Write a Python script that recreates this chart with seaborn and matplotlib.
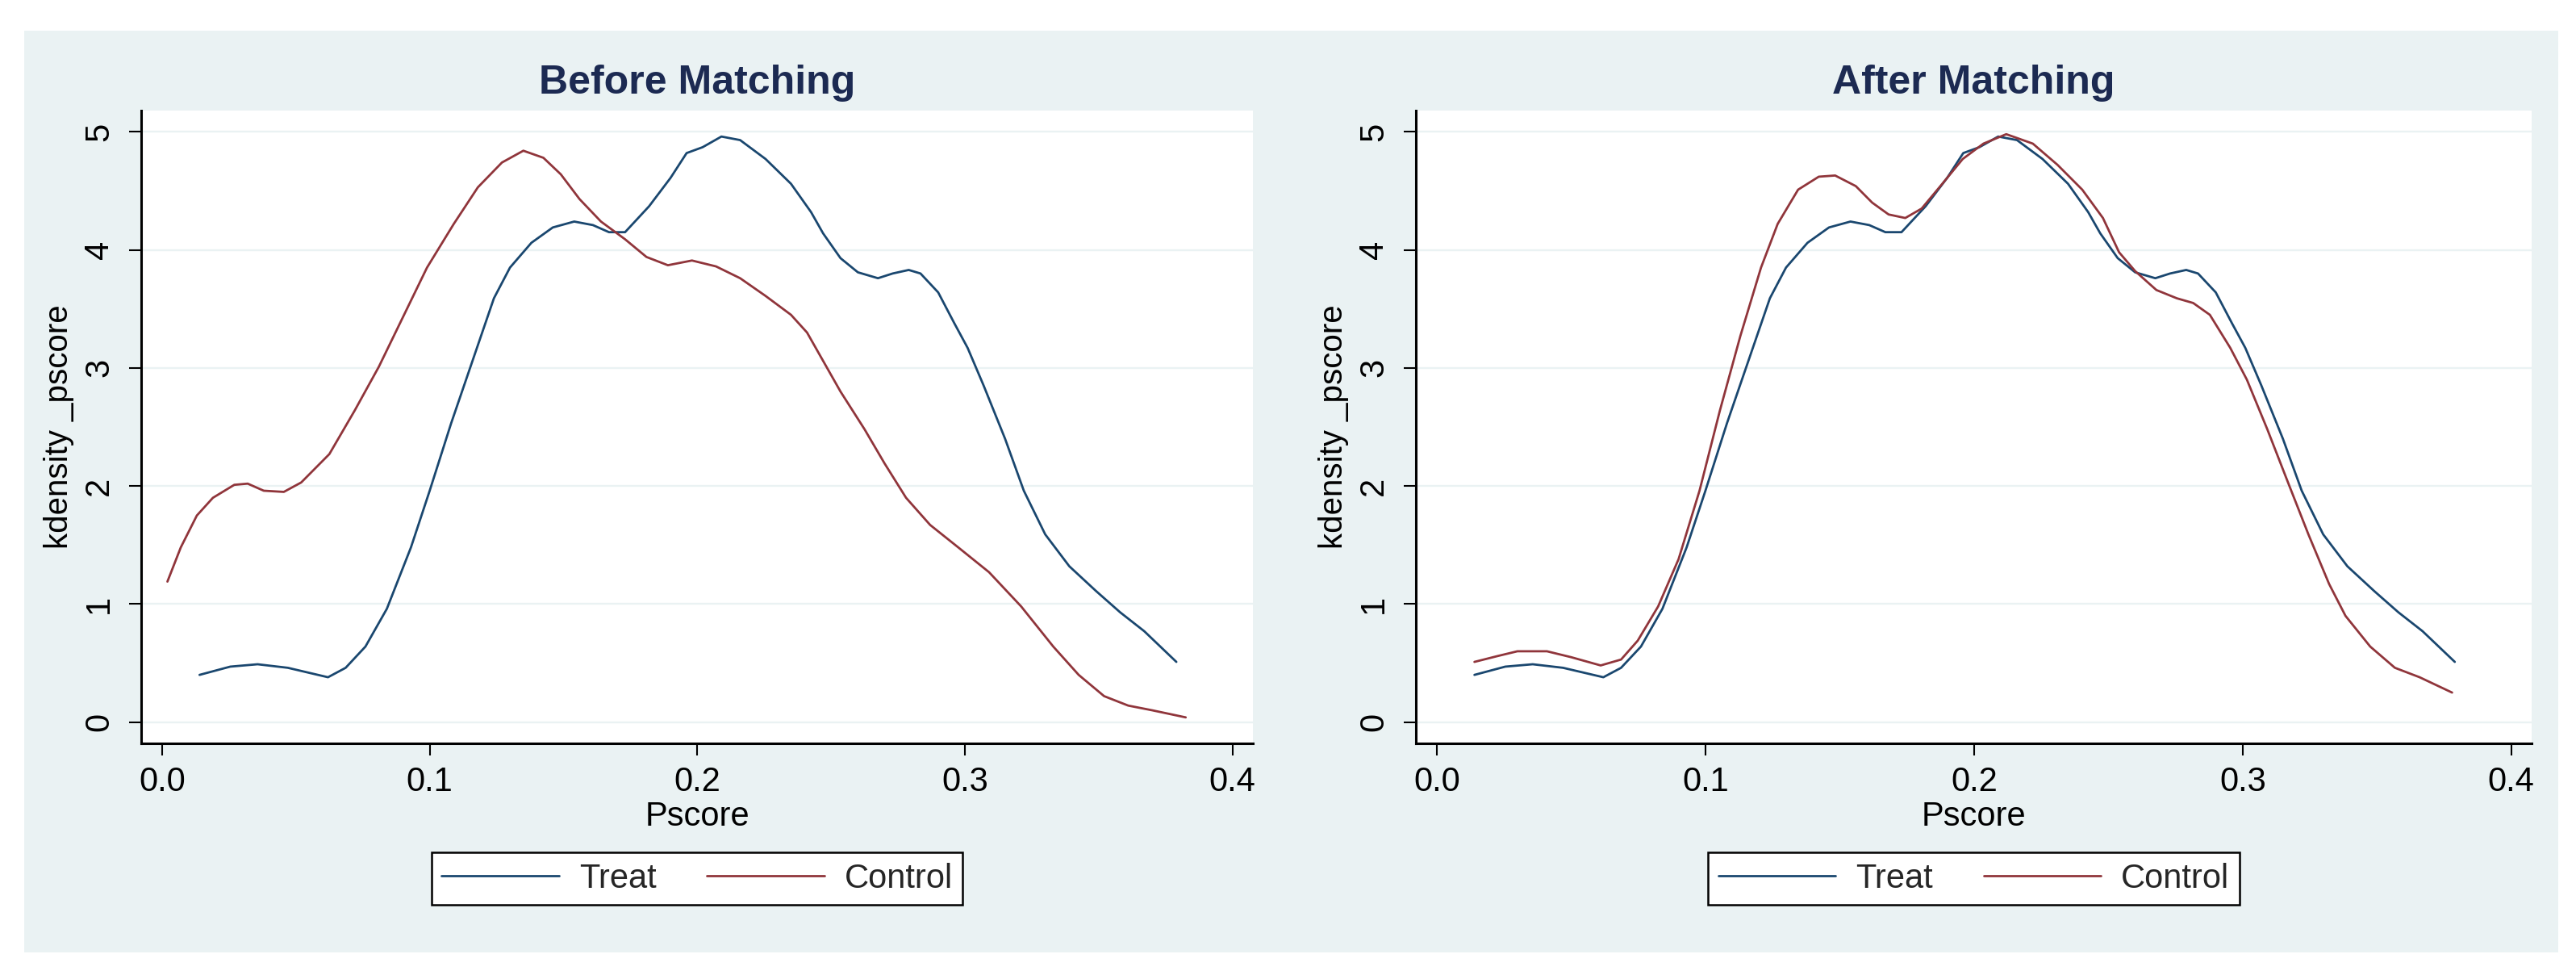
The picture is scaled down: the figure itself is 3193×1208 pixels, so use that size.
import matplotlib
matplotlib.use('Agg')
import matplotlib.pyplot as plt
from matplotlib.patches import Rectangle
import seaborn as sns
import pandas as pd

# 读取自图中的核密度曲线（Pscore, kdensity）
treat_x = [0.014, 0.0255, 0.0357, 0.047, 0.062, 0.0686, 0.076, 0.084, 0.093, 0.100,
           0.108, 0.116, 0.124, 0.130, 0.138, 0.146, 0.154, 0.161, 0.167, 0.173,
           0.182, 0.190, 0.196, 0.202, 0.209, 0.216, 0.2255, 0.235, 0.2425, 0.247,
           0.2535, 0.260, 0.2675, 0.273, 0.279, 0.2834, 0.290, 0.296, 0.301, 0.307,
           0.315, 0.322, 0.330, 0.339, 0.349, 0.358, 0.367, 0.379]
treat_y = [0.40, 0.47, 0.49, 0.46, 0.38, 0.46, 0.64, 0.96, 1.48, 1.96,
           2.53, 3.06, 3.59, 3.85, 4.06, 4.19, 4.24, 4.21, 4.15, 4.15,
           4.37, 4.61, 4.82, 4.87, 4.96, 4.93, 4.77, 4.56, 4.32, 4.14,
           3.93, 3.81, 3.76, 3.80, 3.83, 3.80, 3.64, 3.38, 3.17, 2.85,
           2.40, 1.96, 1.59, 1.32, 1.11, 0.93, 0.77, 0.51]

ctrl_before_x = [0.002, 0.007, 0.013, 0.019, 0.027, 0.032, 0.038, 0.0455, 0.052, 0.0625,
                 0.072, 0.081, 0.090, 0.099, 0.109, 0.118, 0.127, 0.135, 0.1425, 0.149,
                 0.156, 0.164, 0.173, 0.181, 0.189, 0.198, 0.207, 0.216, 0.2255, 0.235,
                 0.241, 0.247, 0.2535, 0.2625, 0.270, 0.278, 0.287, 0.2975, 0.309, 0.321,
                 0.333, 0.3425, 0.352, 0.361, 0.370, 0.3825]
ctrl_before_y = [1.19, 1.48, 1.75, 1.90, 2.01, 2.02, 1.96, 1.95, 2.03, 2.27,
                 2.64, 3.01, 3.43, 3.85, 4.22, 4.53, 4.74, 4.84, 4.78, 4.64,
                 4.43, 4.24, 4.09, 3.94, 3.87, 3.91, 3.86, 3.76, 3.61, 3.45,
                 3.30, 3.06, 2.80, 2.48, 2.19, 1.90, 1.67, 1.48, 1.27, 0.98,
                 0.64, 0.40, 0.22, 0.14, 0.10, 0.04]

ctrl_after_x = [0.014, 0.0227, 0.030, 0.041, 0.050, 0.061, 0.0686, 0.0748, 0.0824, 0.090,
                0.0978, 0.1054, 0.113, 0.1207, 0.1269, 0.1345, 0.1422, 0.1483, 0.156, 0.1621,
                0.1682, 0.1744, 0.1805, 0.1882, 0.1958, 0.2035, 0.212, 0.2219, 0.2311, 0.2403,
                0.248, 0.254, 0.260, 0.2679, 0.2755, 0.2816, 0.2878, 0.2954, 0.3016, 0.3092,
                0.3169, 0.3245, 0.3322, 0.3383, 0.3475, 0.3567, 0.3659, 0.378]
ctrl_after_y = [0.51, 0.56, 0.60, 0.60, 0.55, 0.48, 0.53, 0.69, 0.98, 1.38,
                1.96, 2.64, 3.27, 3.85, 4.22, 4.51, 4.62, 4.63, 4.54, 4.40,
                4.30, 4.27, 4.35, 4.56, 4.77, 4.90, 4.98, 4.90, 4.72, 4.51,
                4.27, 3.98, 3.82, 3.66, 3.59, 3.55, 3.45, 3.17, 2.90, 2.48,
                2.03, 1.59, 1.17, 0.90, 0.64, 0.46, 0.38, 0.25]

titles = ['Before Matching', 'After Matching']
x_ticks = [0.0, 0.1, 0.2, 0.3, 0.4]
x_ticklabels = ['0.0', '0.1', '0.2', '0.3', '0.4']
y_ticks = [0, 1, 2, 3, 4, 5]
y_ticklabels = ['0', '1', '2', '3', '4', '5']

navy = '#1a476f'
maroon = '#90353b'
region = '#eaf2f3'

sns.set_theme(style='white')
plt.rcParams['font.family'] = ['Liberation Sans', 'DejaVu Sans']

W, H = 3193, 1208
fig = plt.figure(figsize=(W / 100, H / 100), dpi=100, facecolor='white')

# Stata 风格的浅色背景区域
bg = Rectangle((30 / W, 1 - 1180 / H), (3171 - 30) / W, (1180 - 38) / H,
               transform=fig.transFigure, facecolor=region, edgecolor='none', zorder=-10)
fig.add_artist(bg)

axes_px = [(175, 1553), (1755, 3138)]
ctrl_sets = [(ctrl_before_x, ctrl_before_y), (ctrl_after_x, ctrl_after_y)]

for i in range(2):
    x0, x1 = axes_px[i]
    ax = fig.add_axes([x0 / W, 1 - 921 / H, (x1 - x0) / W, (921 - 137) / H])
    ax.set_facecolor('white')

    df_t = pd.DataFrame({'Pscore': treat_x, 'kd': treat_y})
    df_c = pd.DataFrame({'Pscore': ctrl_sets[i][0], 'kd': ctrl_sets[i][1]})
    sns.lineplot(data=df_t, x='Pscore', y='kd', ax=ax, color=navy, linewidth=2.0, label='Treat')
    sns.lineplot(data=df_c, x='Pscore', y='kd', ax=ax, color=maroon, linewidth=2.0, label='Control')

    ax.set_xlim(-0.0078, 0.4076)
    ax.set_ylim(-0.18, 5.18)
    ax.set_xticks(x_ticks)
    ax.set_xticklabels(x_ticklabels)
    ax.set_yticks(y_ticks)
    ax.set_yticklabels(y_ticklabels, rotation=90, va='center')

    ax.grid(axis='y', color=region, linewidth=1.7)
    ax.grid(axis='x', visible=False)
    ax.set_axisbelow(True)

    for s in ['top', 'right']:
        ax.spines[s].set_visible(False)
    for s in ['left', 'bottom']:
        ax.spines[s].set_color('black')
        ax.spines[s].set_linewidth(2.2)

    ax.tick_params(axis='both', which='major', direction='out', length=11, width=1.5,
                   color='black', labelsize=30, labelcolor='black')
    ax.tick_params(axis='x', pad=9, bottom=True)
    ax.tick_params(axis='y', pad=12, left=True)

    ax.set_xlabel('Pscore', fontsize=30, color='black', labelpad=2)
    ax.set_ylabel('kdensity _pscore', fontsize=29, color='black', labelpad=8)
    ax.set_title(titles[i], fontsize=36, fontweight='bold', color='#1c2a52', pad=15)

    cx = (x0 + x1) / 2 / W
    leg = ax.legend(loc='center', bbox_to_anchor=(cx, 1 - 1088.5 / H), bbox_transform=fig.transFigure,
                    ncol=2, fontsize=30, frameon=True, fancybox=False, shadow=False,
                    handlelength=3.5, handletextpad=0.6, columnspacing=1.5, borderpad=0.3)
    leg.get_frame().set_edgecolor('black')
    leg.get_frame().set_linewidth(1.8)
    leg.get_frame().set_facecolor('white')
    leg.get_frame().set_alpha(1)

fig.savefig('out.png', dpi=100, facecolor='white')
